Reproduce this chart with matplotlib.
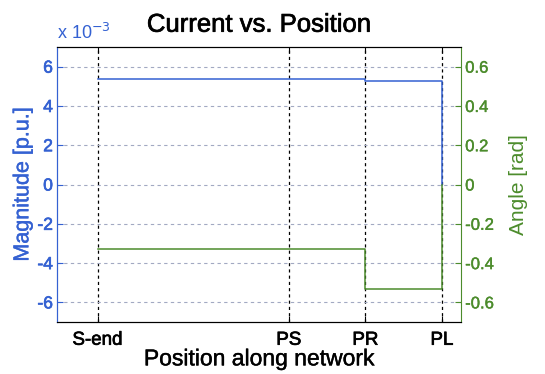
import matplotlib
matplotlib.use("Agg")
import matplotlib.pyplot as plt
import matplotlib.patheffects as pe

# network positions along the feeder
positions = [0.0, 2.5, 3.5, 4.5]
pos_labels = ["S-end", "PS", "PR", "PL"]

# current magnitude [p.u. x 1e-3] and angle [rad], step values per section (last = end value at PL)
magnitude = [5.35, 5.35, 5.25, 0.0]
angle = [-0.33, -0.33, -0.53, 0.0]

mag_ticks = [-6, -4, -2, 0, 2, 4, 6]
ang_ticks = [-0.6, -0.4, -0.2, 0, 0.2, 0.4, 0.6]

BLUE = "#3461d2"
GREEN = "#4c8c2c"
plt.rcParams["font.family"] = ["Liberation Sans", "DejaVu Sans"]


def heavy(color, w=0.6):
    # thicken the glyphs a little
    return [pe.Stroke(linewidth=w, foreground=color), pe.Normal()]


fig = plt.figure(figsize=(5.45, 3.74), dpi=100)
ax = fig.add_axes([0.1046, 0.139, 0.7413, 0.7353])
ax2 = ax.twinx()

ax.step(positions, magnitude, where="post", color=BLUE, lw=1.1, zorder=3)
ax2.step(positions, angle, where="post", color=GREEN, lw=1.1, zorder=3)

ax.set_xlim(-0.53, 4.75)
ax.set_ylim(-7, 7)
ax2.set_ylim(-0.7, 0.7)

ax.set_xticks(positions)
ax.set_xticklabels(pos_labels, fontsize=13.5)
ax.set_yticks(mag_ticks)
ax.set_yticklabels([str(t) for t in mag_ticks], fontsize=12.5, color=BLUE)
ax2.set_yticks(ang_ticks)
ax2.set_yticklabels([f"{t:g}" for t in ang_ticks], fontsize=12, color=GREEN)
for lab in ax.get_xticklabels():
    lab.set_path_effects(heavy("black", 0.5))
for lab in ax.get_yticklabels():
    lab.set_path_effects(heavy(BLUE, 0.5))
for lab in ax2.get_yticklabels():
    lab.set_path_effects(heavy(GREEN, 0.3))

# grid: dark dashed verticals, light dashed horizontals
for p in positions:
    ax.axvline(p, color="black", lw=0.9, ls=(0, (2.5, 2.5)), zorder=1)
for t in mag_ticks:
    ax.axhline(t, color="#a2a9c2", lw=0.8, ls=(0, (3, 3)), zorder=1)

ax.tick_params(axis="x", direction="in", top=True, length=4, pad=7, colors="black")
ax.tick_params(axis="y", direction="in", length=4, pad=3, colors=BLUE)
ax2.tick_params(axis="y", direction="in", length=4, pad=3, colors=GREEN)

ax.spines["left"].set_color(BLUE)
ax2.spines["left"].set_color(BLUE)
ax2.spines["right"].set_color(GREEN)
ax.spines["right"].set_visible(False)
for s in ("top", "bottom"):
    ax.spines[s].set_color("black")
    ax2.spines[s].set_color("black")

ax.set_ylabel("Magnitude [p.u.]", fontsize=15.5, color=BLUE, labelpad=3,
              path_effects=heavy(BLUE, 0.3))
ax2.set_ylabel("Angle [rad]", fontsize=15, color=GREEN, rotation=90, labelpad=11)
ax.set_xlabel("Position along network", fontsize=16.5, labelpad=-1,
              path_effects=heavy("black", 0.3))
ax.set_title("Current vs. Position", fontsize=18.5, pad=11, path_effects=heavy("black", 0.5))
ax.text(0.0, 1.015, r"x 10$^{-3}$", transform=ax.transAxes, color=BLUE, fontsize=13,
        ha="left", va="bottom")

fig.savefig("out.png", dpi=100)
